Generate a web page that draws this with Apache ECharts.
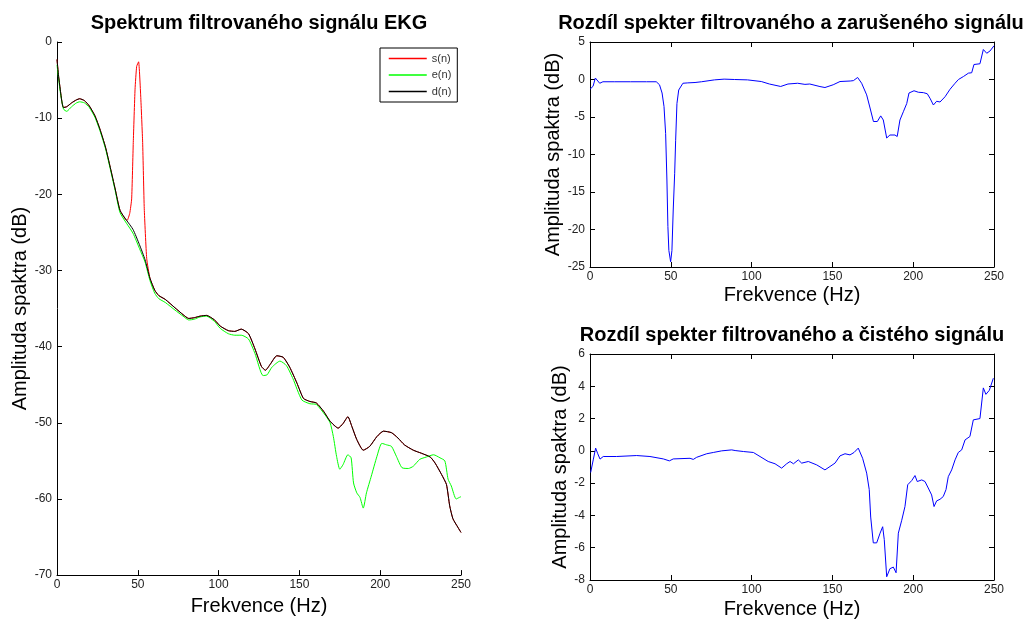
<!DOCTYPE html>
<html>
<head>
<meta charset="utf-8">
<script src="https://cdn.jsdelivr.net/npm/echarts@6/dist/echarts.min.js"></script>
<style>
html,body{margin:0;padding:0;background:#fff;}
#c{width:1026px;height:621px;}
</style>
</head>
<body>
<div id="c"></div>
<script>
// ---- Left panel: spectra (dB) ----
const sFreq = [0,1,2,3,4,6,9,12,14,17,20,23.5,26.5,30,33,36,39,43,43.5,45,46.2,47.2,48.3,49.3,50.5,51.8,53,54,55.5,57.5,60.5,63,67,73,78,81.5,85,88.5,92.5,97.5,101,106,110,114,118.5,122.5,126.5,129,132,136,140,144,148.5,152.5,156.5,160.5,165,169,174,177,180,182.5,185.5,189.5,193.5,198,202,207,211,215,220.5,225.5,231,234,238,241,243,245,248,250];
const sVals = [-2.3,-4.5,-6.2,-7.8,-8.6,-8.5,-8.0,-7.6,-7.45,-7.7,-8.4,-9.7,-11.4,-13.8,-16.5,-19.3,-22.1,-23.4,-23.4,-22.5,-20.6,-13.2,-6.2,-3.2,-2.6,-7.1,-13.2,-21.9,-28.4,-31.0,-32.6,-33.3,-33.8,-34.9,-35.8,-36.3,-36.2,-36.0,-35.9,-36.5,-37.3,-37.9,-38.0,-37.7,-38.3,-40.3,-42.6,-43.1,-42.3,-41.2,-41.4,-42.7,-44.8,-46.8,-47.2,-47.4,-48.5,-49.8,-50.7,-50.1,-49.2,-50.5,-52.2,-53.6,-53.1,-51.8,-51.1,-51.3,-52.0,-52.9,-53.6,-54.0,-54.5,-55.3,-56.8,-58.1,-60.9,-62.6,-63.7,-64.4];

const eFreq = [0,1,2,4,6,9,12,14,17,20,23.5,26.5,30,33,36,39,43,47,51,54.5,57.5,60.5,63,67,73,78,81.5,85,88.5,92.5,97.5,101,106,110,114,118.5,122.5,127.5,130,133,138,142,146,151.5,156.5,160.5,166,169,171,173,175,177,180,182,183.5,185.5,187.5,189.5,191.5,194.5,198,201,204,207,210,213.5,217.5,220.5,224.5,228.5,233,237,240,242,244,247,249,250];
const eVals = [-3.0,-4.8,-6.5,-8.8,-9.1,-8.5,-8.0,-7.85,-8.0,-8.6,-9.9,-11.6,-14.0,-16.7,-19.5,-22.4,-23.8,-25.1,-27.1,-28.9,-31.3,-33.0,-33.7,-34.2,-35.2,-36.0,-36.5,-36.4,-36.1,-36.0,-36.7,-37.6,-38.3,-38.5,-38.5,-39.0,-40.9,-43.8,-43.7,-42.7,-41.9,-42.5,-44.2,-47.0,-47.5,-47.6,-49.0,-50.0,-51.8,-54.4,-56.1,-55.5,-54.2,-54.6,-57.9,-59.2,-59.8,-61.2,-59.2,-57.0,-54.4,-52.7,-52.9,-53.1,-54.4,-55.9,-56.0,-55.7,-54.8,-54.5,-54.2,-54.6,-55.0,-57.4,-58.3,-60.0,-59.8,-59.7];

const dFreq = [0,1,2,3,4,6,9,12,14,17,20,23.5,26.5,30,33,36,39,43,47,51,54.5,57.5,60.5,63,67,73,78,81.5,85,88.5,92.5,97.5,101,106,110,114,118.5,122.5,126.5,129,132,136,140,144,148.5,152.5,156.5,160.5,165,169,174,177,180,182.5,185.5,189.5,193.5,198,202,207,211,215,220.5,225.5,231,234,238,241,243,245,248,250];
const dVals = [-2.3,-4.5,-6.2,-7.8,-8.6,-8.5,-8.0,-7.6,-7.45,-7.7,-8.4,-9.7,-11.4,-13.8,-16.5,-19.3,-22.1,-23.4,-24.6,-26.6,-28.6,-31.0,-32.6,-33.3,-33.8,-34.9,-35.8,-36.3,-36.2,-36.0,-35.9,-36.5,-37.3,-37.9,-38.0,-37.7,-38.3,-40.3,-42.6,-43.1,-42.3,-41.2,-41.4,-42.7,-44.8,-46.8,-47.2,-47.4,-48.5,-49.8,-50.7,-50.1,-49.2,-50.5,-52.2,-53.6,-53.1,-51.8,-51.1,-51.3,-52.0,-52.9,-53.6,-54.0,-54.5,-55.3,-56.8,-58.1,-60.9,-62.6,-63.7,-64.4];

// ---- Right top: filtered minus noisy ----
const topFreq = [0,1.9,3.3,4.5,6,8,15,25,35,41,43,44.6,45.8,46.8,47.6,48.2,48.8,49.9,50.7,51.5,52.4,53,53.8,54.9,57.5,60.5,65,69,77,83,89.5,97.5,106,111,118,122.5,128.5,133,136,142.3,145.4,150.5,154.7,161,163,165.6,168.1,171.2,173.3,175.4,177.8,179.9,181.5,183.6,185.6,188.7,190.1,191.8,193.9,196,197.4,200.5,203.2,206.3,208.7,210.4,212.5,214.5,216.6,219.7,222.8,225.9,228,231.1,234.2,236.2,237.6,241.3,243.4,245.5,247.5,250];
const topVals = [-1.3,-0.9,0.2,-0.05,-0.5,-0.3,-0.3,-0.3,-0.3,-0.3,-0.7,-1.8,-3.6,-7.2,-13.4,-19.6,-22.8,-24.3,-22.8,-17.4,-12.5,-8.1,-3.2,-1.4,-0.5,-0.45,-0.4,-0.3,-0.05,0.05,0.0,-0.05,-0.27,-0.6,-0.93,-0.6,-0.5,-0.65,-0.6,-0.94,-1.07,-0.7,-0.27,-0.2,-0.15,0.27,-0.5,-2.05,-3.8,-5.6,-5.6,-4.85,-5.4,-7.8,-7.4,-7.4,-7.6,-5.4,-4.3,-3.2,-1.8,-1.5,-1.7,-1.75,-1.9,-2.5,-3.4,-2.9,-3.0,-2.3,-1.3,-0.5,0.0,0.4,0.85,0.9,2.0,2.1,4.0,3.5,3.8,4.5];

// ---- Right bottom: filtered minus clean ----
const botFreq = [0.4,2.0,3.5,4.8,6.2,8.2,16.5,28.9,37.1,45.4,49.1,51.5,61.9,63.9,66.0,72.2,76.3,81.5,87.7,89.8,94.9,101.1,105.2,110.3,114.5,118.6,121.7,123.8,125.9,128.9,131,135.1,140.3,145.4,148.5,151.6,154.7,157.8,160.9,163.4,166,168.7,171.2,172.8,173.7,175.3,177.4,179.5,181.1,182.1,183.6,185.6,187.7,189.4,190.8,192.9,194.9,196.6,199.1,201.1,202.5,205.3,207.3,209.3,211.4,212.9,214.5,216.6,218.6,220.3,221.7,223.8,225.9,227.9,230,232.1,235.1,237.2,241.3,243.4,245,247.1,249.6];
const botVals = [-1.34,-0.56,0.17,-0.18,-0.51,-0.35,-0.35,-0.29,-0.35,-0.5,-0.62,-0.5,-0.46,-0.53,-0.4,-0.18,-0.1,0.0,0.06,0.02,-0.04,-0.1,-0.35,-0.66,-0.8,-1.07,-0.8,-0.66,-0.8,-0.56,-0.76,-0.66,-0.87,-1.18,-0.97,-0.76,-0.31,-0.18,-0.25,-0.1,0.17,-0.46,-1.38,-2.4,-4.1,-5.7,-5.7,-5.1,-4.7,-5.5,-7.8,-7.3,-7.2,-7.55,-5.1,-4.3,-3.45,-2.1,-1.84,-1.53,-1.9,-1.8,-1.9,-2.3,-2.73,-3.45,-3.1,-3.0,-2.83,-2.4,-1.6,-1.18,-0.56,-0.1,0.06,0.68,0.89,1.92,2.0,3.9,3.5,3.75,4.5];

// ---- Texts ----
const titles = ['Spektrum filtrovaného signálu EKG','Rozdíl spekter filtrovaného a zarušeného signálu','Rozdíl spekter filtrovaného a čistého signálu'];
const xName = 'Frekvence (Hz)';
const yName = 'Amplituda spaktra (dB)';
const legendNames = ['s(n)','e(n)','d(n)'];

const pairs = (xs, ys) => xs.map((x, i) => [x, ys[i]]);
const FONT = '"Liberation Sans", Arial, sans-serif';

const labelStyle = {color:'#222', fontSize:12, fontFamily:FONT};
const nameStyle = {color:'#000', fontSize:20, fontFamily:FONT};

function xAx(grid, nameGap){
  return {type:'value', gridIndex:grid, min:0, max:250, interval:50,
    name:xName, nameLocation:'middle', nameGap:nameGap, nameTextStyle:nameStyle,
    axisLine:{show:true, onZero:false, lineStyle:{color:'#000', width:1}},
    axisTick:{show:true, inside:true, length:5, lineStyle:{color:'#000'}},
    axisLabel:Object.assign({margin:4, showMinLabel:true, showMaxLabel:true}, labelStyle),
    splitLine:{show:false}};
}
function yAx(grid, min, max, interval, nameGap){
  return {type:'value', gridIndex:grid, min:min, max:max, interval:interval,
    name:yName, nameLocation:'middle', nameGap:nameGap, nameTextStyle:nameStyle,
    axisLine:{show:true, onZero:false, lineStyle:{color:'#000', width:1}},
    axisTick:{show:true, inside:true, length:5, lineStyle:{color:'#000'}},
    axisLabel:Object.assign({margin:5, showMinLabel:true, showMaxLabel:true}, labelStyle),
    splitLine:{show:false}};
}
function xTop(grid){
  return {type:'value', gridIndex:grid, position:'top', min:0, max:250, interval:50,
    axisLine:{show:true, onZero:false, lineStyle:{color:'#000', width:1}},
    axisTick:{show:true, inside:true, length:5, lineStyle:{color:'#000'}},
    axisLabel:{show:false}, splitLine:{show:false}};
}
function yRight(grid, min, max, interval){
  return {type:'value', gridIndex:grid, position:'right', min:min, max:max, interval:interval,
    axisLine:{show:true, onZero:false, lineStyle:{color:'#000', width:1}},
    axisTick:{show:true, inside:true, length:5, lineStyle:{color:'#000'}},
    axisLabel:{show:false}, splitLine:{show:false}};
}

const chart = echarts.init(document.getElementById('c'), null, {renderer:'canvas'});
const lineSeries = (name, xi, yi, data, color, smooth) => ({
  name:name, type:'line', xAxisIndex:xi, yAxisIndex:yi, data:data,
  symbol:'none', showSymbol:false, smooth:smooth, animation:false,
  lineStyle:{color:color, width:1}, itemStyle:{color:color}, emphasis:{disabled:true}
});

chart.setOption({
  animation:false,
  backgroundColor:'#fff',
  textStyle:{fontFamily:FONT},
  grid:[
    {left:57, top:42, width:404, height:538},
    {left:590, top:42, width:404, height:225},
    {left:590, top:354, width:404, height:226}
  ],
  xAxis:[xAx(0,18), xAx(1,18), xAx(2,19), xTop(1), xTop(2)],
  yAxis:[yAx(0,-70,0,10,23), yAx(1,-25,5,5,24), yAx(2,-8,6,2,19), yRight(1,-25,5,5), yRight(2,-8,6,2)],
  legend:{
    data:legendNames, orient:'vertical', left:380, top:48,
    backgroundColor:'#fff', borderColor:'#000', borderWidth:1,
    padding:[5,6,5,8], itemWidth:38, itemHeight:12, itemGap:5.5,
    itemStyle:{opacity:0, borderWidth:0},
    lineStyle:{width:1.5},
    textStyle:{fontSize:11, color:'#333', fontFamily:FONT},
    selectedMode:false
  },
  graphic:[
    {type:'text', x:259, y:23, style:{text:titles[0], font:'bold 20px '+FONT, fill:'#000', align:'center', verticalAlign:'middle'}},
    {type:'text', x:791, y:23, style:{text:titles[1], font:'bold 20px '+FONT, fill:'#000', align:'center', verticalAlign:'middle'}},
    {type:'text', x:792, y:335, style:{text:titles[2], font:'bold 20px '+FONT, fill:'#000', align:'center', verticalAlign:'middle'}}
  ],
  series:[
    lineSeries(legendNames[0], 0, 0, pairs(sFreq, sVals), '#ff0000', 0.15),
    lineSeries(legendNames[1], 0, 0, pairs(eFreq, eVals), '#00ff00', 0.2),
    lineSeries(legendNames[2], 0, 0, pairs(dFreq, dVals), '#000000', 0.2),
    lineSeries('rozdil1', 1, 1, pairs(topFreq, topVals), '#0000ff', false),
    lineSeries('rozdil2', 2, 2, pairs(botFreq, botVals), '#0000ff', false)
  ]
});
</script>
</body>
</html>
